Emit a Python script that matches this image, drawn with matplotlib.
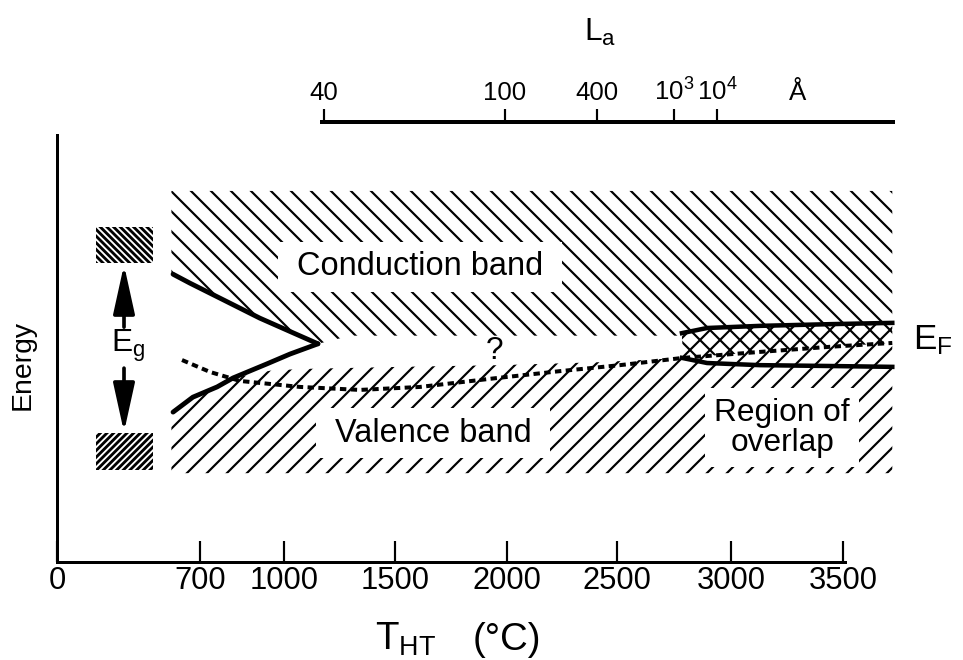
import matplotlib
matplotlib.use('Agg')
import matplotlib.pyplot as plt
import numpy as np

plt.rcParams['font.family'] = ['Liberation Sans', 'DejaVu Sans']
plt.rcParams['mathtext.fontset'] = 'custom'
plt.rcParams['mathtext.rm'] = 'Liberation Sans'
plt.rcParams['mathtext.it'] = 'Liberation Sans:italic'
plt.rcParams['hatch.linewidth'] = 1.3

# --- data (T in degC, E in arbitrary energy units 0..10) ---
T_TICKS = [0, 700, 1000, 1500, 2000, 2500, 3000, 3500]
LA_LABELS = ['40', '100', '400', r'10$^{3}$', r'10$^{4}$']
LA_T = [1180, 1991, 2409, 2750, 2939]
LA_UNIT_T = 3295
LA_LINE_T = (1171, 3723)

# band edges on the low-T side (they meet at ~1150 C)
CB_CURVE_T = [568, 651, 771, 914, 1153]
CB_CURVE_E = [6.74, 6.53, 6.18, 5.71, 5.11]
VB_CURVE_T = [568, 665, 761, 818, 939, 1027, 1153]
VB_CURVE_E = [3.51, 3.86, 4.10, 4.31, 4.64, 4.87, 5.11]

# Fermi level (dashed)
EF_T = [612, 736, 843, 1072, 1342, 1612, 1924, 2241, 2513, 2789, 3129, 3442, 3720]
EF_E = [4.73, 4.45, 4.24, 4.10, 4.03, 4.10, 4.29, 4.47, 4.61, 4.78, 4.92, 5.04, 5.13]

# overlap region edges at high T
OV_T = [2785, 2895, 3129, 3442, 3720]
OV_TOP_E = [5.36, 5.48, 5.53, 5.57, 5.60]
OV_BOT_E = [4.78, 4.66, 4.61, 4.59, 4.57]

# hatched band extents
BAND_T = (560, 3720)
CB_TOP = 8.69
VB_BOTTOM = 2.08
CB_GAP_T = [1300, 2785]
CB_GAP_E = 5.30
VB_GAP_T = [950, 1072, 1522, 1969, 2423, 2785]
VB_GAP_E = [4.48, 4.52, 4.57, 4.61, 4.68, 4.78]

# small reference bands on the left (E_g)
EG_T = (191, 470)
EG_CB = (7.00, 7.85)
EG_VB = (2.15, 3.02)
EG_ARROW_T = 328
EG_UP = (5.50, 6.96)
EG_DOWN = (4.54, 3.04)

# --- non-linear temperature axis (as drawn in the original) ---
T_KNOTS = [0, 700, 1000, 1500, 2000, 2500, 3000, 3500, 3750, 5000]
P_KNOTS = [57, 200, 284, 395, 507, 617, 731, 843, 899, 1179]


def fwd(t):
    return np.interp(t, T_KNOTS, P_KNOTS)


def inv(p):
    return np.interp(p, P_KNOTS, T_KNOTS)


W, H = 963, 660
fig = plt.figure(figsize=(W / 120, H / 120), dpi=120)
ax = fig.add_axes([57 / W, 98 / H, 842 / W, 427 / H])
ax.set_xscale('function', functions=(fwd, inv))
ax.set_xlim(0, 3750)
ax.set_ylim(0, 10)
ax.patch.set_visible(False)


def hatched(t, e, hatch, lw):
    plt.rcParams['hatch.linewidth'] = lw
    p, = ax.fill(t, e, facecolor='none', edgecolor='black', hatch=hatch,
                 linewidth=0, zorder=1)
    if hasattr(p, 'set_hatch_linewidth'):
        p.set_hatch_linewidth(lw)
    return p


# conduction band hatch
ef_tail = [(t, e) for t, e in zip(EF_T, EF_E) if t >= CB_GAP_T[1]]
cb_t = ([BAND_T[0]] + CB_CURVE_T + CB_GAP_T + [t for t, _ in ef_tail]
        + [BAND_T[1], BAND_T[0]])
cb_e = ([CB_CURVE_E[0]] + CB_CURVE_E + [CB_GAP_E, CB_GAP_E]
        + [e for _, e in ef_tail] + [CB_TOP, CB_TOP])
hatched(cb_t, cb_e, '\\\\', 1.3)

# valence band hatch
vb_t = [BAND_T[0]] + VB_CURVE_T[:4] + VB_GAP_T + OV_T + [BAND_T[1], BAND_T[0]]
vb_e = ([VB_CURVE_E[0]] + VB_CURVE_E[:4] + VB_GAP_E + OV_TOP_E
        + [VB_BOTTOM, VB_BOTTOM])
hatched(vb_t, vb_e, '//', 1.3)

# E_g reference boxes
hatched([EG_T[0], EG_T[1], EG_T[1], EG_T[0]],
        [EG_CB[0], EG_CB[0], EG_CB[1], EG_CB[1]], '\\' * 6, 1.7)
hatched([EG_T[0], EG_T[1], EG_T[1], EG_T[0]],
        [EG_VB[0], EG_VB[0], EG_VB[1], EG_VB[1]], '/' * 6, 1.7)

# band edges and Fermi level
ax.plot(CB_CURVE_T, CB_CURVE_E, color='black', lw=2.9, solid_capstyle='round', zorder=4)
ax.plot(VB_CURVE_T, VB_CURVE_E, color='black', lw=2.9, solid_capstyle='round', zorder=4)
ax.plot(OV_T, OV_TOP_E, color='black', lw=2.7, zorder=4)
ax.plot(OV_T, OV_BOT_E, color='black', lw=2.7, zorder=4)
ax.plot(EF_T, EF_E, color='black', lw=2.4, dashes=(1.6, 1.1), zorder=4)

# E_g arrows
arw = dict(arrowstyle='-|>,head_length=2.5,head_width=0.55', mutation_scale=10,
           color='black', lw=2.2, shrinkA=0, shrinkB=0)
ax.annotate('', xy=(EG_ARROW_T, EG_UP[1]), xytext=(EG_ARROW_T, EG_UP[0]), arrowprops=arw)
ax.annotate('', xy=(EG_ARROW_T, EG_DOWN[1]), xytext=(EG_ARROW_T, EG_DOWN[0]), arrowprops=arw)
ax.text(EG_ARROW_T + 20, 5.06, r'E$_{\rm g}$', fontsize=19, ha='center', va='center')

box = dict(boxstyle='square,pad=0.3', facecolor='white', edgecolor='none')
ax.text(1613, 6.91, ' Conduction band ', fontsize=19.5, ha='center', va='center', bbox=box, zorder=5)
ax.text(1670, 3.02, ' Valence band ', fontsize=19.5, ha='center', va='center', bbox=box, zorder=5)
ax.text(3228, 3.14, 'Region of\noverlap', fontsize=19, ha='center', va='center',
        linespacing=1.0, bbox=box, zorder=5)
ax.text(1946, 4.94, '?', fontsize=19, ha='center', va='center')
ax.text(3812, 5.2, r'E$_{\rm F}$', fontsize=21, ha='left', va='center', clip_on=False)

# axes styling
for s in ['top', 'right']:
    ax.spines[s].set_visible(False)
ax.spines['left'].set_linewidth(1.8)
ax.spines['bottom'].set_linewidth(1.8)
ax.spines['bottom'].set_bounds(0, 3510)
ax.set_xticks(T_TICKS)
ax.set_xticklabels([str(t) for t in T_TICKS])
ax.xaxis.set_minor_locator(matplotlib.ticker.NullLocator())
ax.tick_params(axis='x', direction='in', length=12.6, width=1.3, pad=2.5, labelsize=18.5)
ax.set_yticks([])

# L_a scale on top
ax2 = fig.add_axes([57 / W, 1 - 122 / H - 0.01, 842 / W, 0.01])
ax2.set_xscale('function', functions=(fwd, inv))
ax2.set_xlim(0, 3750)
ax2.patch.set_visible(False)
for s in ['bottom', 'left', 'right']:
    ax2.spines[s].set_visible(False)
ax2.spines['top'].set_linewidth(2.4)
ax2.spines['top'].set_bounds(*LA_LINE_T)
ax2.set_xticks(LA_T)
ax2.set_xticklabels(LA_LABELS)
ax2.xaxis.set_minor_locator(matplotlib.ticker.NullLocator())
ax2.tick_params(axis='x', top=True, bottom=False, labeltop=True, labelbottom=False,
                direction='out', length=8, width=1.3, pad=2, labelsize=15.5)
ax2.set_yticks([])
ax2.annotate('Å', xy=(LA_UNIT_T, 1), xycoords=('data', 'axes fraction'),
             xytext=(0, 10), textcoords='offset points', ha='center', va='bottom',
             fontsize=15.5)

fig.text(600 / W, 1 - 32 / H, r'L$_{\rm a}$', fontsize=19, ha='center', va='center')
fig.text(23 / W, 1 - 365 / H, 'Energy', fontsize=17, rotation=90, ha='center', va='center')
fig.text(436 / W, 1 - 650 / H, r'T$_{\rm HT}$', fontsize=23, ha='right', va='baseline')
fig.text(507 / W, 1 - 650 / H, '(°C)', fontsize=23, ha='center', va='baseline')

fig.savefig('out.png', dpi=120)
